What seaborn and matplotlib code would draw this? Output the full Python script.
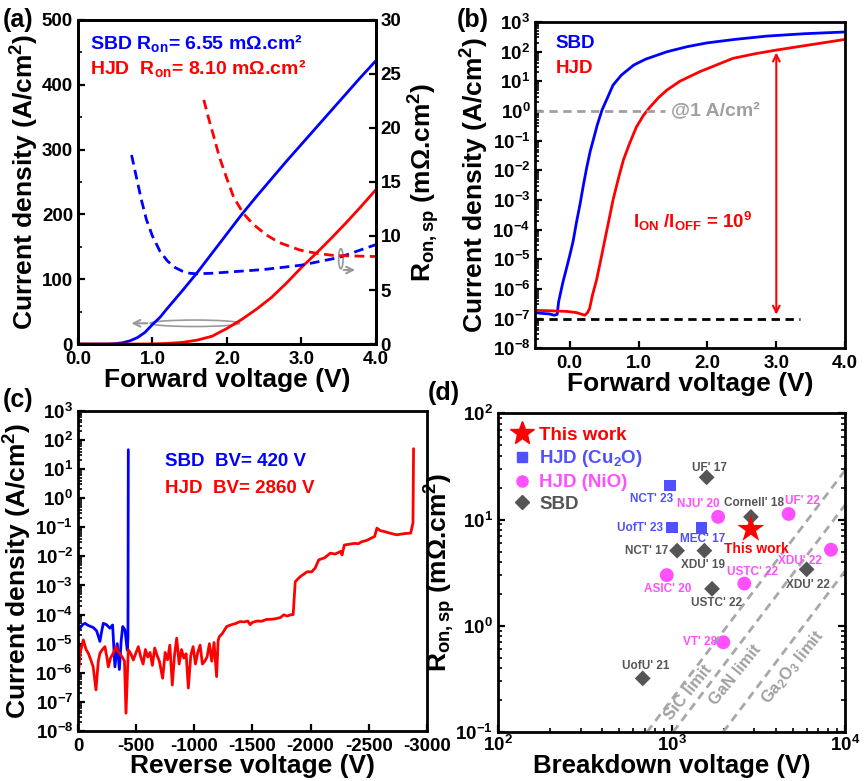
import matplotlib
matplotlib.use('Agg')
import matplotlib.pyplot as plt
import seaborn as sns
from matplotlib.patches import Ellipse
from matplotlib.lines import Line2D
from matplotlib.ticker import LogLocator, NullFormatter, MultipleLocator, FormatStrFormatter

# ---- (a) linear forward J-V and Ron,sp
v_lin = [0, 0.2, 0.4, 0.5, 0.6, 0.7, 0.8, 0.9, 1.0, 1.1, 1.2, 1.4, 1.6, 1.8, 2.0, 2.2,
         2.4, 2.6, 2.8, 3.0, 3.2, 3.4, 3.6, 3.8, 4.0]
j_lin_sbd = [0, 0, 0.1, 0.6, 2, 5, 10, 18, 30, 41, 55, 82, 110, 140, 170, 200,
             228, 255, 282, 308, 334, 360, 386, 412, 437]
j_lin_hjd = [0, 0, 0, 0, 0, 0, 0, 0.1, 0.3, 0.6, 1, 2.5, 6, 12, 24, 38,
             54, 72, 94, 118, 140, 163, 187, 212, 238]
v_ron_sbd = [0.72, 0.78, 0.85, 0.92, 1.0, 1.1, 1.2, 1.3, 1.4, 1.5, 1.6, 1.8, 2.0, 2.5, 3.0, 3.5, 4.0]
ron_sbd = [17.5, 15.6, 13.4, 11.5, 10.0, 8.6, 7.7, 7.1, 6.75, 6.55, 6.5, 6.55, 6.65, 6.9, 7.3, 8.0, 9.2]
v_ron_hjd = [1.69, 1.75, 1.82, 1.9, 2.0, 2.09, 2.22, 2.35, 2.53, 2.7, 2.98, 3.2, 3.43, 3.7, 4.0]
ron_hjd = [22.6, 21.0, 19.3, 17.3, 15.3, 13.6, 12.1, 11.1, 10.1, 9.4, 8.7, 8.4, 8.2, 8.15, 8.1]

# ---- (b) log forward J-V
v_log_sbd = [-0.5, -0.4, -0.3, -0.22, -0.18, -0.16, -0.1, -0.04, 0.0, 0.05, 0.1, 0.15, 0.2,
             0.25, 0.3, 0.35, 0.4, 0.47, 0.55, 0.63, 0.75, 0.93, 1.1, 1.41, 1.7, 1.99,
             2.4, 2.86, 3.4, 4.0]
j_log_sbd = [1.6e-7, 1.5e-7, 1.45e-7, 1.3e-7, 1.4e-7, 3.7e-7, 1.6e-6, 5.6e-6, 1.3e-5, 4e-5,
             1.8e-4, 7e-4, 3.2e-3, 1.3e-2, 4.5e-2, 0.12, 0.33, 1.07, 2.8, 7.4, 16, 35, 55,
             98, 145, 195, 257, 331, 398, 457]
v_log_hjd = [-0.5, -0.3, -0.04, 0.1, 0.22, 0.26, 0.29, 0.33, 0.39, 0.44, 0.49, 0.56, 0.63,
             0.70, 0.78, 0.87, 0.97, 1.07, 1.17, 1.29, 1.41, 1.6, 1.89, 2.1, 2.37, 2.7,
             3.0, 3.5, 4.0]
j_log_hjd = [1.9e-7, 1.85e-7, 1.75e-7, 1.6e-7, 1.3e-7, 1.6e-7, 2.2e-7, 6e-7, 2.0e-6, 7e-6,
             2.6e-5, 1.6e-4, 1.0e-3, 4.5e-3, 2.2e-2, 0.08, 0.29, 0.7, 1.38, 2.8, 5.0, 10,
             21, 33, 59, 85, 112, 170, 257]

# ---- (c) reverse J-V
v_rev_sbd = [0, -20, -40, -60, -90, -131, -160, -189, -205, -218, -245, -275, -298, -318,
             -338, -356, -372, -385, -404, -424, -430, -433]
j_rev_sbd = [2.6e-5, 3.5e-5, 4.5e-5, 5e-5, 4.2e-5, 3.6e-5, 2.8e-5, 1.2e-5, 2.8e-5, 5e-5,
             4.5e-5, 3.4e-5, 4.4e-5, 1.6e-6, 1.0e-5, 1.3e-6, 1.3e-5, 3.9e-5, 3e-5, 6e-6,
             1.6e-5, 46]
v_rev_hjd = [0, -20, -46, -70, -89, -110, -131, -155, -175, -189, -210, -232, -250, -261,
             -280, -304, -327, -345, -356, -380, -400, -413, -433, -455, -476, -500, -519,
             -540, -560, -580, -600, -620, -640, -660, -680, -700, -728, -750, -770, -790,
             -811, -830, -849, -870, -890, -910, -930, -949, -970, -990, -1010, -1030,
             -1050, -1070, -1090, -1110, -1130, -1150, -1170, -1192, -1205, -1215, -1240,
             -1279, -1320, -1360, -1393, -1430, -1460, -1480, -1500, -1540, -1580, -1620,
             -1660, -1700, -1740, -1770, -1800, -1826, -1850, -1868, -1910, -1970, -2010,
             -2040, -2070, -2120, -2170, -2210, -2260, -2270, -2290, -2330, -2380, -2410,
             -2440, -2480, -2520, -2550, -2570, -2600, -2630, -2680, -2740, -2800, -2860,
             -2880, -2885]
j_rev_hjd = [6.5e-7, 5.0e-6, 1.35e-5, 6.3e-6, 4.7e-6, 2.8e-6, 1.6e-6, 2.6e-7, 2.5e-6, 4.7e-6,
             6.3e-6, 7.9e-6, 3.2e-6, 1.6e-6, 3.2e-6, 4.7e-6, 7.9e-6, 5.6e-6, 4.7e-6, 3.5e-6,
             2.5e-6, 4.1e-8, 6.2e-6, 4.5e-6, 2.75e-6, 5.0e-6, 7.9e-6, 3.5e-6, 2.0e-6, 6.3e-6,
             3.5e-6, 5.0e-6, 1.8e-6, 7.1e-6, 4.0e-6, 2.5e-6, 6.5e-7, 5.0e-6, 2.8e-6, 8.9e-6,
             3.8e-7, 4.0e-6, 1.55e-5, 2.0e-6, 6.3e-6, 3.2e-6, 4.5e-6, 3.0e-7, 4.0e-6, 7.9e-6,
             2.0e-6, 5.0e-6, 8.9e-6, 2.0e-6, 2.5e-6, 3.5e-6, 1.0e-5, 2.5e-6, 1.1e-5, 7.4e-7,
             1.26e-5, 1.74e-5, 2.2e-5, 3.9e-5, 4.5e-5, 5.0e-5, 5.75e-5, 5.6e-5, 6.0e-5,
             4.5e-5, 5.4e-5, 6.0e-5, 5.9e-5, 6.8e-5, 6.9e-5, 7.2e-5, 7.9e-5, 9.8e-5, 8.9e-5,
             9.8e-5, 1.0e-4, 1.35e-3, 2.0e-3, 2.95e-3, 2.95e-3, 4.0e-3, 7.6e-3, 8.9e-3,
             1.29e-2, 1.2e-2, 1.48e-2, 1.12e-2, 2.45e-2, 2.6e-2, 2.8e-2, 2.7e-2, 3.2e-2,
             3.5e-2, 4.2e-2, 4.8e-2, 9.3e-2, 7.6e-2, 7.2e-2, 6.3e-2, 5.5e-2, 6.0e-2, 6.3e-2,
             0.14, 50]

# ---- (d) benchmark
this_bv = [2860]
this_ron = [8.1]
cu2o_names = ["NCT' 23", "UofT' 23", "MEC' 17"]
cu2o_bv = [980, 1006, 1486]
cu2o_ron = [21, 8.4, 8.3]
nio_names = ["NJU' 20", "UF' 22", "XDU' 22", "ASIC' 20", "USTC' 22", "VT' 28"]
nio_bv = [1854, 4720, 8280, 938, 2624, 1986]
nio_ron = [10.6, 11.3, 5.2, 3.0, 2.5, 0.70]
sbd_names = ["UF' 17", "Cornell' 18", "NCT' 17", "XDU' 19", "XDU' 22", "USTC' 22", "UofU' 21"]
sbd_bv = [1592, 2864, 1076, 1545, 5994, 1710, 682]
sbd_ron = [25, 10.6, 5.1, 5.1, 3.4, 2.23, 0.32]
limit_names = ['SiC limit', 'GaN limit', 'Ga$_2$O$_3$ limit']
limit_bv = [[722, 10000], [1020, 10000], [1982, 10000]]
limit_ron = [[0.1, 29.2], [0.1, 13.8], [0.1, 3.3]]

# label offsets (points) for panel d
cu2o_off = [(-13, -10), (-23, 0), (1, -8)]
nio_off = [(-14, 9), (10, 9), (-22, -8), (1, -10), (6, 8), (-17, 0)]
sbd_off = [(2, 7), (2, 10), (-22, 0), (-1, -10), (1, -11), (3, -10), (2, 9)]

sns.set_theme(style='ticks')
plt.rcParams['font.family'] = ['Liberation Sans', 'DejaVu Sans']
plt.rcParams['font.weight'] = 'bold'
plt.rcParams['axes.labelweight'] = 'bold'
plt.rcParams['mathtext.fontset'] = 'custom'
plt.rcParams['mathtext.rm'] = 'Liberation Sans:bold'
plt.rcParams['mathtext.it'] = 'Liberation Sans:bold'
plt.rcParams['mathtext.bf'] = 'Liberation Sans:bold'
plt.rcParams['axes.unicode_minus'] = False
for k in ['axes.edgecolor', 'text.color', 'xtick.color', 'ytick.color', 'axes.labelcolor']:
    plt.rcParams[k] = 'black'
plt.rcParams['axes.linewidth'] = 2.0

TICK = 13.5
LAB = 19
BLUE = '#0000ff'
RED = '#ff0000'
C_CU = '#5050ff'
C_NI = '#ff50ff'
C_SB = '#555555'


def style_ax(ax, xpad=5):
    ax.tick_params(which='major', direction='in', width=1.6, length=5, labelsize=TICK)
    ax.tick_params(which='minor', direction='in', width=1.2, length=3)
    ax.tick_params(axis='x', pad=xpad)
    for lab in ax.get_xticklabels() + ax.get_yticklabels():
        lab.set_fontweight('bold')


fig = plt.figure(figsize=(8.66, 7.81), dpi=100)

# ================= (a)
ax = fig.add_axes([0.090, 0.5595, 0.344, 0.415])
sns.lineplot(x=v_lin, y=j_lin_sbd, ax=ax, color=BLUE, lw=2)
sns.lineplot(x=v_lin, y=j_lin_hjd, ax=ax, color=RED, lw=2)
ax.set_xlim(0, 4)
ax.set_ylim(0, 500)
ax.xaxis.set_major_locator(MultipleLocator(1))
ax.xaxis.set_major_formatter(FormatStrFormatter('%.1f'))
ax.yaxis.set_major_locator(MultipleLocator(100))
ax.yaxis.set_minor_locator(MultipleLocator(50))
ax.set_xlabel('Forward voltage (V)', fontsize=LAB, labelpad=0)
ax.set_ylabel('Current density (A/cm$^2$)', fontsize=LAB, labelpad=1)
style_ax(ax)
ax2 = ax.twinx()
sns.lineplot(x=v_ron_sbd, y=ron_sbd, ax=ax2, color=BLUE, lw=2, linestyle=(0, (3.5, 2)))
sns.lineplot(x=v_ron_hjd, y=ron_hjd, ax=ax2, color=RED, lw=2, linestyle=(0, (3.5, 2)))
ax2.set_ylim(0, 30)
ax2.yaxis.set_major_locator(MultipleLocator(5))
ax2.set_ylabel('R$_{on,sp}$ (m\u03a9.cm$^2$)', fontsize=LAB, labelpad=3)
style_ax(ax2)
ax.text(0.16, 464, 'SBD R$_{on}$= 6.55 m\u03a9.cm\u00b2', color=BLUE, fontsize=14, va='center')
ax.text(0.16, 426, 'HJD  R$_{on}$= 8.10 m\u03a9.cm\u00b2', color=RED, fontsize=14, va='center')
ax.add_patch(Ellipse((1.57, 32), 1.2, 10, fill=False, ec='#999999', lw=1.2))
ax.annotate('', xy=(0.68, 32), xytext=(0.97, 32),
            arrowprops=dict(arrowstyle='->', color='#999999', lw=1.5))
ax2.add_patch(Ellipse((3.53, 7.9), 0.06, 1.85, fill=False, ec='#999999', lw=1.2))
ax2.annotate('', xy=(3.76, 6.85), xytext=(3.53, 6.85),
             arrowprops=dict(arrowstyle='->', color='#999999', lw=1.5))

# ================= (b)
ax = fig.add_axes([0.618, 0.554, 0.358, 0.418])
sns.lineplot(x=v_log_sbd, y=j_log_sbd, ax=ax, color=BLUE, lw=2)
sns.lineplot(x=v_log_hjd, y=j_log_hjd, ax=ax, color=RED, lw=2)
ax.set_yscale('log')
ax.set_xlim(-0.5, 4)
ax.set_ylim(1e-8, 1e3)
ax.xaxis.set_major_locator(MultipleLocator(1))
ax.xaxis.set_major_formatter(FormatStrFormatter('%.1f'))
ax.yaxis.set_major_locator(LogLocator(base=10, numticks=20))
ax.yaxis.set_minor_locator(LogLocator(base=10, subs=range(2, 10), numticks=20))
ax.yaxis.set_minor_formatter(NullFormatter())
ax.set_xlabel('Forward voltage (V)', fontsize=LAB, labelpad=0)
ax.set_ylabel('Current density (A/cm$^2$)', fontsize=LAB, labelpad=1)
style_ax(ax)
ax.plot([-0.5, 1.38], [1, 1], ls=(0, (3, 2)), color='#a0a0a0', lw=2)
ax.text(1.47, 1, '@1 A/cm\u00b2', color='#a0a0a0', fontsize=14, va='center')
ax.plot([-0.5, 3.35], [1e-7, 1e-7], ls=(0, (3, 2)), color='black', lw=2)
ax.annotate('', xy=(3.0, 1.1e-7), xytext=(3.0, 115),
            arrowprops=dict(arrowstyle='<->', color=RED, lw=1.5))
ax.text(0.92, 1.9e-4, 'I$_{ON}$ /I$_{OFF}$ = 10$^9$', color=RED, fontsize=13.5, va='center')
ax.text(-0.2, 186, 'SBD', color=BLUE, fontsize=13.5, va='center')
ax.text(-0.2, 27, 'HJD', color=RED, fontsize=13.5, va='center')

# ================= (c)
ax = fig.add_axes([0.090, 0.064, 0.403, 0.410])
sns.lineplot(x=v_rev_sbd, y=j_rev_sbd, ax=ax, color=BLUE, lw=2, sort=False, estimator=None)
sns.lineplot(x=v_rev_hjd, y=j_rev_hjd, ax=ax, color=RED, lw=2, sort=False, estimator=None)
ax.set_yscale('log')
ax.set_xlim(0, -3000)
ax.set_ylim(1e-8, 1e3)
ax.xaxis.set_major_locator(MultipleLocator(500))
ax.xaxis.set_major_formatter(FormatStrFormatter('%d'))
ax.yaxis.set_major_locator(LogLocator(base=10, numticks=20))
ax.yaxis.set_minor_locator(LogLocator(base=10, subs=range(2, 10), numticks=20))
ax.yaxis.set_minor_formatter(NullFormatter())
ax.set_xlabel('Reverse voltage (V)', fontsize=LAB, labelpad=-1)
ax.set_ylabel('Current density (A/cm$^2$)', fontsize=LAB, labelpad=1)
style_ax(ax)
ax.text(-745, 17.8, 'SBD  BV= 420 V', color=BLUE, fontsize=13.5, va='center')
ax.text(-745, 2.2, 'HJD  BV= 2860 V', color=RED, fontsize=13.5, va='center')

# ================= (d)
ax = fig.add_axes([0.575, 0.0627, 0.401, 0.408])
ax.set_xscale('log')
ax.set_yscale('log')
for bv, ron in zip(limit_bv, limit_ron):
    ax.plot(bv, ron, ls=(0, (3, 2)), color='#a8a8a8', lw=2)
sns.scatterplot(x=sbd_bv, y=sbd_ron, ax=ax, marker='D', color=C_SB, s=65, edgecolor='none')
sns.scatterplot(x=nio_bv, y=nio_ron, ax=ax, marker='o', color=C_NI, s=100, edgecolor='none')
sns.scatterplot(x=cu2o_bv, y=cu2o_ron, ax=ax, marker='s', color=C_CU, s=70, edgecolor='none')
sns.scatterplot(x=this_bv, y=this_ron, ax=ax, marker='*', color=RED, s=420, edgecolor='none')
ax.set_xlim(1e2, 1e4)
ax.set_ylim(1e-1, 1e2)
for a in (ax.xaxis, ax.yaxis):
    a.set_major_locator(LogLocator(base=10, numticks=20))
    a.set_minor_locator(LogLocator(base=10, subs=range(2, 10), numticks=20))
    a.set_minor_formatter(NullFormatter())
ax.tick_params(which='both', right=True)
ax.set_xlabel('Breakdown voltage (V)', fontsize=18.5, labelpad=-1)
ax.set_ylabel('R$_{on,sp}$ (m\u03a9.cm$^2$)', fontsize=LAB, labelpad=-2)
style_ax(ax, xpad=2)
for names, xs, ys, offs, col in [(cu2o_names, cu2o_bv, cu2o_ron, cu2o_off, C_CU),
                                  (nio_names, nio_bv, nio_ron, nio_off, C_NI),
                                  (sbd_names, sbd_bv, sbd_ron, sbd_off, C_SB)]:
    for n, xv, yv, o in zip(names, xs, ys, offs):
        ax.annotate(n, (xv, yv), xytext=o, textcoords='offset points', color=col,
                    fontsize=8.5, ha='center', va='center')
ax.annotate('This work', (this_bv[0], this_ron[0]), xytext=(4, -14), textcoords='offset points',
            color=RED, fontsize=10, ha='center', va='center')
for n, pos in zip(limit_names, [(1245, 0.237), (2323, 0.343), (5012, 0.41)]):
    ax.text(pos[0], pos[1], n, color='#a0a0a0', fontsize=12, rotation=51,
            ha='center', va='center', rotation_mode='anchor')
handles = [Line2D([], [], ls='none', marker='*', color=RED, ms=18),
           Line2D([], [], ls='none', marker='s', color=C_CU, ms=7),
           Line2D([], [], ls='none', marker='o', color=C_NI, ms=8),
           Line2D([], [], ls='none', marker='D', color=C_SB, ms=7)]
ax.legend(handles, ['This work', 'HJD (Cu$_2$O)', 'HJD (NiO)', 'SBD'], loc='upper left',
          frameon=False, fontsize=13.5, labelcolor=[RED, C_CU, C_NI, C_SB],
          handletextpad=0.3, labelspacing=0.25, borderaxespad=0.3, handlelength=1.2,
          borderpad=0.4)

for t, xy in [('(a)', (0.003, 0.975)), ('(b)', (0.527, 0.975)),
              ('(c)', (0.003, 0.488)), ('(d)', (0.494, 0.497))]:
    fig.text(xy[0], xy[1], t, fontsize=18, fontweight='bold', va='center', ha='left')

fig.savefig('out.png', dpi=100)
